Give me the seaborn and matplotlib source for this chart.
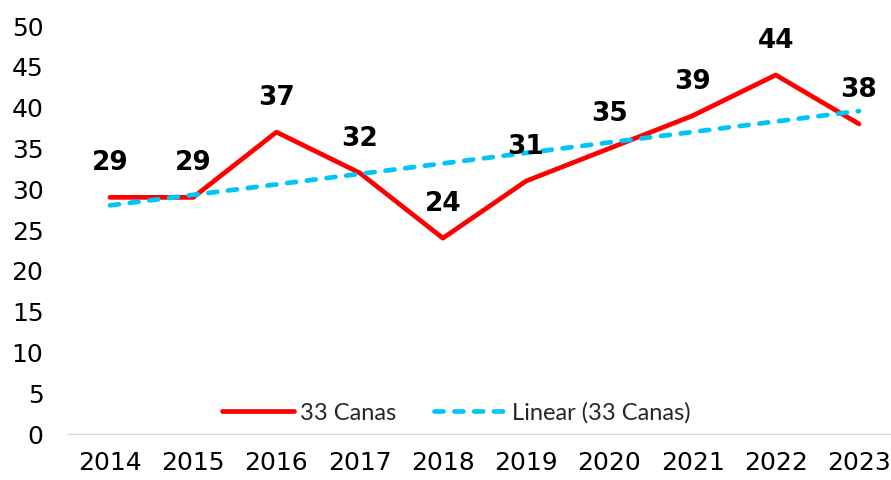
import numpy as np
import pandas as pd
import matplotlib
matplotlib.use("Agg")
import matplotlib.pyplot as plt
import seaborn as sns

years = ["2014", "2015", "2016", "2017", "2018", "2019", "2020", "2021", "2022", "2023"]
values = [29, 29, 37, 32, 24, 31, 35, 39, 44, 38]
series_name = "33 Canas"
trend_name = "Linear (33 Canas)"

sns.set_theme(style="white")
plt.rcParams['font.family'] = ['DejaVu Sans']

x = np.arange(len(years))
coef = np.polyfit(x, values, 1)
trend = np.polyval(coef, x)

df = pd.DataFrame({"x": x, "value": values, "trend": trend})

fig = plt.figure(figsize=(8.91, 4.8), dpi=100)
W, H = 891, 480
x0, x1 = 68.4, 900.6
y0, y1 = 434, 26
ax = fig.add_axes([x0 / W, 1 - y0 / H, (x1 - x0) / W, (y0 - y1) / H])

sns.lineplot(data=df, x="x", y="value", ax=ax, color="#ff0000", linewidth=3.4,
             label=series_name)
sns.lineplot(data=df, x="x", y="trend", ax=ax, color="#00c5f5", linewidth=3.4,
             label=trend_name)
trend_line = ax.lines[1]
trend_line.set_linestyle((0, (1.9, 2.3)))
trend_line.set_dash_capstyle("round")

for xi, v in zip(x, values):
    ax.annotate(str(v), (xi, v), xytext=(0, 24.5), textcoords="offset points",
                ha="center", va="center", fontsize=19, fontweight="bold", color="black")

ax.set_xlim(-0.5, len(years) - 0.5)
ax.set_ylim(0, 50)
ax.set_yticks(range(0, 51, 5))
ax.set_xticks(x)
ax.set_xticklabels(years)
ax.tick_params(axis="both", labelsize=18, colors="black", length=0)
ax.tick_params(axis="x", pad=12)
ax.tick_params(axis="y", pad=18)
ax.set_xlabel("")
ax.set_ylabel("")
for s in ["top", "right", "left"]:
    ax.spines[s].set_visible(False)
ax.spines["bottom"].set_color("#d9d9d9")
ax.spines["bottom"].set_linewidth(1)
ax.grid(False)

leg = ax.legend(loc="center", bbox_to_anchor=(456 / W, 1 - 413 / H), bbox_transform=fig.transFigure,
                ncol=2, frameon=False, prop={"family": "Lato", "size": 17},
                handlelength=3.05, columnspacing=1.6, handletextpad=0.25)
for h in leg.get_lines():
    h.set_solid_capstyle("round")
leg.get_lines()[1].set_dash_capstyle("round")

fig.savefig("out.png", dpi=100)
